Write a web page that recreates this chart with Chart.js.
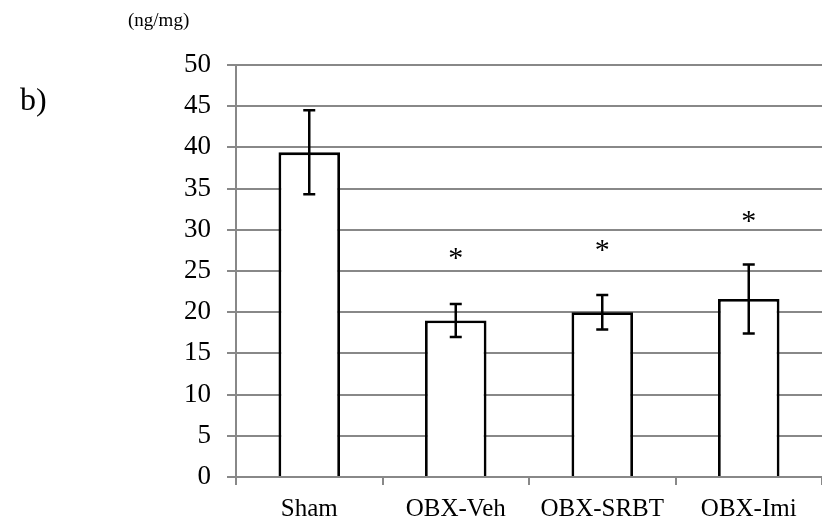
<!DOCTYPE html>
<html>
<head>
<meta charset="utf-8">
<script src="https://cdn.jsdelivr.net/npm/chart.js@4.4.1/dist/chart.umd.min.js"></script>
<style>
  html, body { margin: 0; padding: 0; background: #fff; }
  #wrap { position: relative; width: 822px; height: 528px; }
</style>
</head>
<body>
<div id="wrap"><canvas id="c" width="822" height="528"></canvas></div>
<script>
const categories = ["Sham", "OBX-Veh", "OBX-SRBT", "OBX-Imi"];
const values = [39.4, 19.0, 20.0, 21.6];
const errors = [5.1, 2.0, 2.1, 4.2];
const sigMarks = ["", "*", "*", "*"];
const sigY = [null, 27.2, 28.2, 31.6];
const yTicks = [0, 5, 10, 15, 20, 25, 30, 35, 40, 45, 50];
const panelLabel = "b)";
const unitLabel = "(ng/mg)";

const serif = "'Liberation Serif', 'Times New Roman', serif";

const overlay = {
  id: 'overlay',
  afterDatasetsDraw(chart) {
    const ctx = chart.ctx;
    const xs = chart.scales.x, ys = chart.scales.y;
    ctx.save();
    // error bars
    ctx.strokeStyle = '#000';
    ctx.lineWidth = 2.5;
    values.forEach((v, i) => {
      const x = xs.getPixelForValue(i);
      const yt = ys.getPixelForValue(v + errors[i]);
      const yb = ys.getPixelForValue(v - errors[i]);
      ctx.beginPath();
      ctx.moveTo(x, yt); ctx.lineTo(x, yb);
      ctx.moveTo(x - 6, yt); ctx.lineTo(x + 6, yt);
      ctx.moveTo(x - 6, yb); ctx.lineTo(x + 6, yb);
      ctx.stroke();
    });
    // significance marks
    ctx.fillStyle = '#000';
    ctx.font = "30px " + serif;
    ctx.textAlign = 'center';
    ctx.textBaseline = 'middle';
    sigMarks.forEach((m, i) => {
      if (!m || sigY[i] == null) return;
      ctx.fillText(m, xs.getPixelForValue(i), ys.getPixelForValue(sigY[i]) + 6);
    });
    // panel / unit labels
    ctx.textAlign = 'left';
    ctx.textBaseline = 'alphabetic';
    ctx.font = "32px " + serif;
    ctx.fillText(panelLabel, 20, 110);
    ctx.font = "19px " + serif;
    ctx.fillText(unitLabel, 128, 26);
    ctx.restore();
  }
};

new Chart(document.getElementById('c'), {
  type: 'bar',
  data: {
    labels: categories,
    datasets: [{
      data: values,
      backgroundColor: '#ffffff',
      borderColor: '#000000',
      borderWidth: 2.8,
      barPercentage: 0.42,
      categoryPercentage: 1.0
    }]
  },
  options: {
    responsive: false,
    animation: false,
    devicePixelRatio: 1,
    layout: { padding: { top: 65, left: 0, right: 0, bottom: 0 } },
    plugins: { legend: { display: false }, tooltip: { enabled: false } },
    scales: {
      x: {
        offset: true,
        grid: { display: true, drawOnChartArea: false, offset: true, color: '#888888', lineWidth: 2, tickLength: 8 },
        border: { display: true, color: '#888888', width: 2 },
        ticks: { color: '#000', font: { family: serif, size: 25 }, padding: 9, maxRotation: 0 },
        afterFit(scale) { scale.height = 51; }
      },
      y: {
        min: 0, max: 50,
        afterBuildTicks(scale) { scale.ticks = yTicks.map(v => ({ value: v })); },
        grid: { color: '#888888', lineWidth: 2, tickLength: 9 },
        border: { display: true, color: '#888888', width: 2 },
        ticks: { color: '#000', font: { family: serif, size: 27 }, padding: 16 },
        afterFit(scale) { scale.width = 236; }
      }
    }
  },
  plugins: [overlay]
});
</script>
</body>
</html>
